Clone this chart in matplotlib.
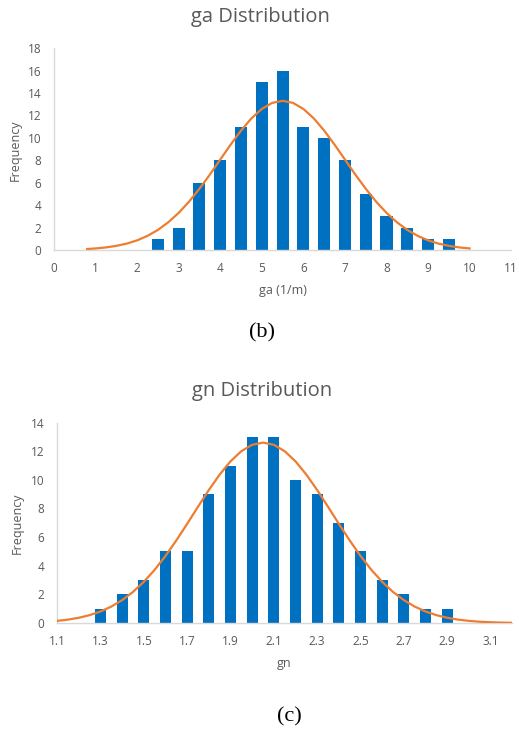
import matplotlib
matplotlib.use("Agg")
import matplotlib.pyplot as plt

# ---- ga data ----
ga_bins = [2.5, 3.0, 3.5, 4.0, 4.5, 5.0, 5.5, 6.0, 6.5, 7.0, 7.5, 8.0, 8.5, 9.0, 9.5]
ga_freq = [1, 2, 6, 8, 11, 15, 16, 11, 10, 8, 5, 3, 2, 1, 1]
ga_curve_x = [0.8, 1.0, 1.25, 1.5, 1.75, 2.0, 2.25, 2.5, 2.75, 3.0, 3.25, 3.5, 3.75, 4.0,
              4.25, 4.5, 4.75, 5.0, 5.25, 5.5, 5.75, 6.0, 6.25, 6.5, 6.75, 7.0, 7.25,
              7.5, 7.75, 8.0, 8.25, 8.5, 8.75, 9.0, 9.25, 9.5, 9.75, 10.0]
ga_curve_y = [0.10, 0.15, 0.24, 0.38, 0.58, 0.87, 1.27, 1.80, 2.48, 3.32, 4.32, 5.47, 6.73, 8.07,
              9.40, 10.65, 11.74, 12.58, 13.12, 13.30, 13.12, 12.58, 11.74, 10.65, 9.40, 8.07, 6.73,
              5.47, 4.32, 3.32, 2.48, 1.80, 1.27, 0.87, 0.58, 0.38, 0.24, 0.15]
ga_xticks = [0, 1, 2, 3, 4, 5, 6, 7, 8, 9, 10, 11]
ga_yticks = [0, 2, 4, 6, 8, 10, 12, 14, 16, 18]

# ---- gn data ----
gn_bins = [1.3, 1.4, 1.5, 1.6, 1.7, 1.8, 1.9, 2.0, 2.1, 2.2, 2.3, 2.4, 2.5, 2.6, 2.7, 2.8, 2.9]
gn_freq = [1, 2, 3, 5, 5, 9, 11, 13, 13, 10, 9, 7, 5, 3, 2, 1, 1]
gn_curve_x = [1.10, 1.15, 1.20, 1.25, 1.30, 1.35, 1.40, 1.45, 1.50, 1.55, 1.60, 1.65, 1.70,
              1.75, 1.80, 1.85, 1.90, 1.95, 2.00, 2.05, 2.10, 2.15, 2.20, 2.25, 2.30, 2.35,
              2.40, 2.45, 2.50, 2.55, 2.60, 2.65, 2.70, 2.75, 2.80, 2.85, 2.90, 2.95, 3.00,
              3.05, 3.10, 3.15, 3.20]
gn_curve_y = [0.154, 0.241, 0.370, 0.554, 0.808, 1.151, 1.601, 2.172, 2.877, 3.717, 4.687, 5.768,
              6.928, 8.120, 9.288, 10.365, 11.290, 12.000, 12.447, 12.600, 12.447, 12.000, 11.290,
              10.365, 9.288, 8.120, 6.928, 5.768, 4.687, 3.717, 2.877, 2.172, 1.601, 1.151, 0.808,
              0.554, 0.370, 0.241, 0.154, 0.095, 0.058, 0.034, 0.020]
gn_xticks = [1.1, 1.3, 1.5, 1.7, 1.9, 2.1, 2.3, 2.5, 2.7, 2.9, 3.1]
gn_yticks = [0, 2, 4, 6, 8, 10, 12, 14]

BAR = "#0070C0"
LINE = "#ED7D31"
GRAY = "#595959"
AXC = "#D9D9D9"
FONT = "Open Sans"

fig = plt.figure(figsize=(5.19, 7.40), dpi=100)


def style(ax, xlim, ylim, xticks, yticks, xfmt):
    ax.set_xlim(*xlim)
    ax.set_ylim(*ylim)
    ax.set_xticks(xticks)
    ax.set_xticklabels([xfmt(v) for v in xticks], family=FONT, fontsize=8.5, color=GRAY)
    ax.set_yticks(yticks)
    ax.set_yticklabels([str(v) for v in yticks], family=FONT, fontsize=8.5, color=GRAY)
    ax.tick_params(axis="both", length=0)
    ax.tick_params(axis="x", pad=8.5)
    ax.tick_params(axis="y", pad=9)
    for s in ["top", "right"]:
        ax.spines[s].set_visible(False)
    for s in ["left", "bottom"]:
        ax.spines[s].set_color(AXC)
        ax.spines[s].set_linewidth(1.0)


# top chart
ax1 = fig.add_axes([0.104, 0.662, 0.881, 0.273])
ax1.bar(ga_bins, ga_freq, width=0.29, color=BAR, zorder=2)
ax1.plot(ga_curve_x, ga_curve_y, color=LINE, lw=1.6, zorder=3)
style(ax1, (0, 11), (0, 18), ga_xticks, ga_yticks, lambda v: str(v))

# bottom chart
ax2 = fig.add_axes([0.110, 0.158, 0.877, 0.271])
ax2.bar(gn_bins, gn_freq, width=0.051, color=BAR, zorder=2)
ax2.plot(gn_curve_x, gn_curve_y, color=LINE, lw=1.6, zorder=3)
style(ax2, (1.1, 3.2), (0, 14), gn_xticks, gn_yticks, lambda v: f"{v:.1f}")

# titles
fig.text(0.501, 0.977, "ga Distribution", ha="center", va="center", family=FONT, fontsize=14.5, color=GRAY)
fig.text(0.505, 0.472, "gn Distribution", ha="center", va="center", family=FONT, fontsize=14.5, color=GRAY)

# axis labels
fig.text(0.029, 0.797, "Frequency", rotation=90, ha="center", va="center", family=FONT, fontsize=9, color=GRAY)
fig.text(0.545, 0.607, "ga (1/m)", ha="center", va="center", family=FONT, fontsize=9, color=GRAY)
fig.text(0.034, 0.293, "Frequency", rotation=90, ha="center", va="center", family=FONT, fontsize=9, color=GRAY)
fig.text(0.547, 0.103, "gn", ha="center", va="center", family=FONT, fontsize=9, color=GRAY)

# captions
fig.text(0.505, 0.550, "(b)", ha="center", va="center", family="Liberation Serif", fontsize=16, color="black")
fig.text(0.557, 0.031, "(c)", ha="center", va="center", family="Liberation Serif", fontsize=16, color="black")

fig.savefig("out.png", dpi=100)
